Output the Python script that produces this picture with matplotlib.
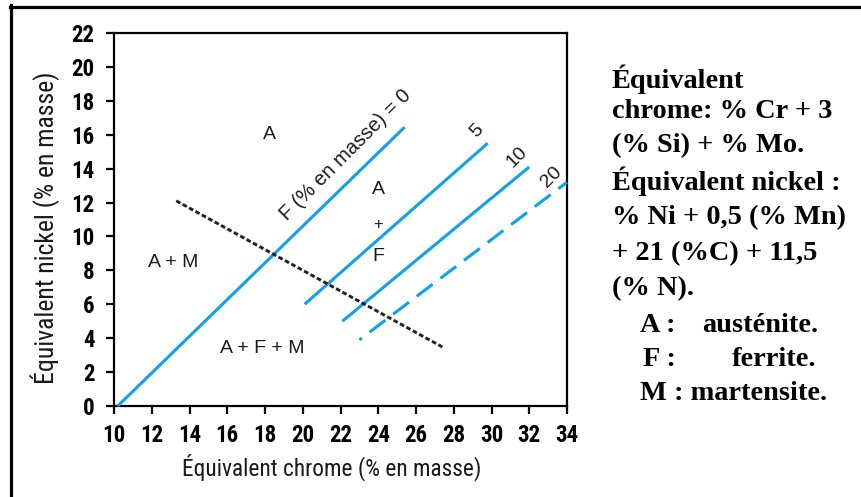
import matplotlib
matplotlib.use("Agg")
import matplotlib.pyplot as plt
from matplotlib.lines import Line2D

# Axis ticks
x_ticks = list(range(10, 35, 2))
y_ticks = list(range(0, 23, 2))

# Iso-ferrite lines (F, % en masse): end points in (Cr eq, Ni eq)
ferrite_levels = ["0", "5", "10", "20"]
iso_x0 = [10.2, 20.1, 22.1, 23.0]
iso_y0 = [0.0, 6.0, 5.0, 3.9]
iso_x1 = [25.4, 29.8, 32.0, 34.0]
iso_y1 = [16.45, 15.5, 14.1, 13.2]

# Martensite boundary
mart_x = [13.3, 27.45]
mart_y = [12.1, 3.45]

W, H = 862, 497
fig = plt.figure(figsize=(W / 100, H / 100), dpi=100)
fig.patch.set_facecolor("white")

ax = fig.add_axes([114 / W, 1 - 406 / H, (567 - 114) / W, (406 - 33) / H])
ax.set_xlim(10, 34)
ax.set_ylim(0, 22)
ax.set_xticks(x_ticks)
ax.set_yticks(y_ticks)
tick_font = dict(family="Roboto Condensed", weight="bold", size=16.5)
ax.set_xticklabels([str(v) for v in x_ticks], fontdict=tick_font)
ax.set_yticklabels([str(v) for v in y_ticks], fontdict=tick_font)
ax.tick_params(direction="out", length=6, width=1.6, color="black")
ax.tick_params(axis="x", pad=7)
ax.tick_params(axis="y", pad=8)
for s in ax.spines.values():
    s.set_linewidth(1.6)

blue = "#12A1E6"
for i, lvl in enumerate(ferrite_levels):
    ls = "-" if lvl != "20" else (5.5, (6.5, 3.2))
    ax.plot([iso_x0[i], iso_x1[i]], [iso_y0[i], iso_y1[i]], color=blue,
            lw=2.2, linestyle=ls, solid_capstyle="butt", dash_capstyle="butt",
            clip_on=False, zorder=3)

ax.plot(mart_x, mart_y, color="#222222", lw=2.1, linestyle=(0, (1.6, 0.9)),
        dash_capstyle="butt", zorder=4)

lab_font = dict(family="Liberation Sans", size=14, color="#1a1a1a")
ax.text(22.25, 14.8, "F (% en masse) = 0", rotation=45, ha="center",
        va="center", rotation_mode="anchor", **{**lab_font, "size": 14.5})
ax.text(29.2, 16.2, "5", rotation=45, ha="center", va="center", **lab_font)
ax.text(31.35, 14.65, "10", rotation=45, ha="center", va="center", **lab_font)
ax.text(33.2, 13.5, "20", rotation=45, ha="center", va="center", **lab_font)

ax.text(18.26, 16.0, "A", ha="center", va="center", **lab_font)
ax.text(13.13, 8.44, "A + M", ha="center", va="center", **lab_font)
ax.text(17.84, 3.42, "A + F + M", ha="center", va="center", **lab_font)
ax.text(24.0, 12.74, "A", ha="center", va="center", **lab_font)
ax.text(24.0, 10.68, "+", ha="center", va="center", **{**lab_font, "size": 12})
ax.text(24.0, 8.79, "F", ha="center", va="center", **lab_font)

axis_font = dict(family="Roboto Condensed", color="#1a1a1a")
fig.text(332 / W, 1 - 467 / H, "Équivalent chrome (% en masse)",
         ha="center", va="center", size=16.8, **axis_font)
fig.text(45 / W, 1 - 228 / H, "Équivalent nickel (% en masse)",
         ha="center", va="center", rotation=90, size=18.5, **axis_font)

# Side notes
note_font = dict(family="Liberation Serif", weight="bold", size=20.4,
                 color="black", va="center", ha="left")
notes = [
    (612, 79, "Équivalent"),
    (612, 112, "chrome: % Cr + 3"),
    (612, 146, "(% Si) + % Mo."),
    (612, 181, "Équivalent nickel :"),
    (612, 218, "% Ni + 0,5 (% Mn)"),
    (612, 254, "+ 21 (%C) + 11,5"),
    (612, 289, "(% N)."),
    (640, 325, "A :"),
    (702, 325, "austénite."),
    (643, 359, "F :"),
    (732, 359, "ferrite."),
    (640, 393, "M : martensite."),
]
for px, py, t in notes:
    fig.text(px / W, 1 - py / H, t, **note_font)

# Frame on the left and top edges
fig.add_artist(Line2D([11.5 / W, 11.5 / W], [0, 1 - 5 / H], color="black",
                      lw=2.3, transform=fig.transFigure))
fig.add_artist(Line2D([10 / W, 1], [1 - 6.5 / H, 1 - 6.5 / H], color="black",
                      lw=2.3, transform=fig.transFigure))

fig.savefig("out.png", dpi=100)
